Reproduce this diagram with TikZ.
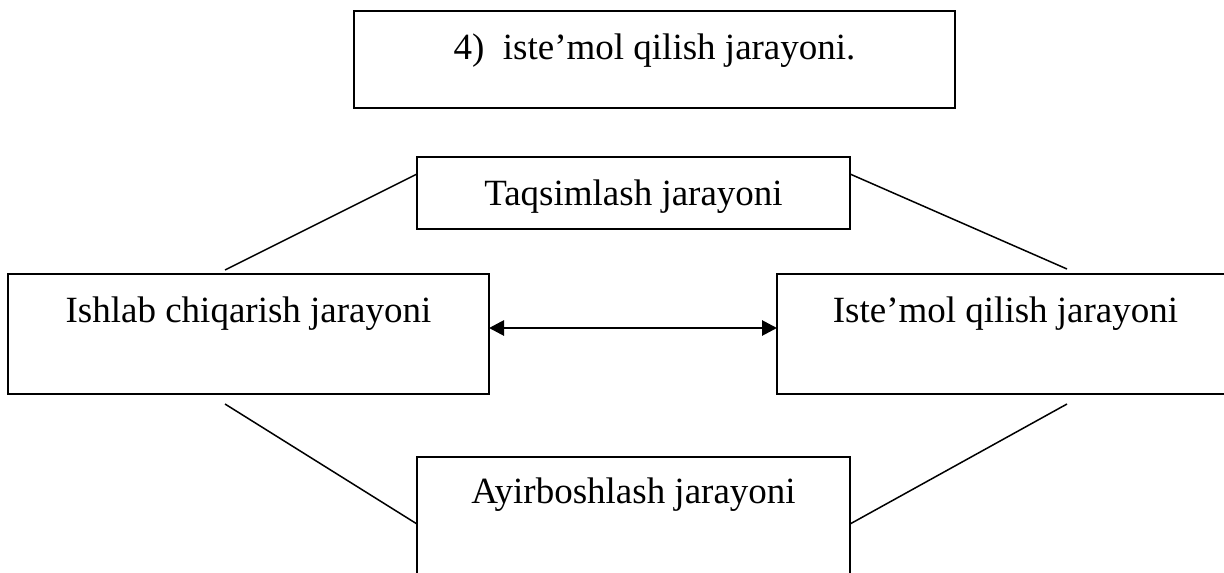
\documentclass[tikz,border=0pt]{standalone}
\usepackage{fontspec}
\setmainfont{Liberation Serif}
\usetikzlibrary{arrows.meta}
\begin{document}
\begin{tikzpicture}[x=1pt,y=-1pt,
  boxstyle/.style={draw=black,line width=2pt,inner sep=0pt,fill=none},
  txt/.style={anchor=base,inner sep=0pt,font=\fontsize{37}{40}\selectfont},
  link/.style={draw=black,line width=1.5pt},
  dbl/.style={draw=black,line width=2.8pt,{Triangle[length=15pt,width=15pt]}-{Triangle[length=15pt,width=15pt]}}]
\clip (0,0) rectangle (1224,573);
\fill[white] (0,0) rectangle (1224,573);
% boxes
\draw[boxstyle] (354,11) rectangle (955,108);
\node[txt] (t0) at (654.5,59) {4)\ \ iste’mol qilish jarayoni.};

\draw[boxstyle] (417,157) rectangle (850,229);
\coordinate (taqW) at (417,174);
\coordinate (taqE) at (850,174);
\node[txt] (t1) at (633.5,205) {Taqsimlash jarayoni};

\draw[boxstyle] (8,274) rectangle (489,394);
\coordinate (ishE) at (489,328);
\node[txt] (t2) at (248.5,322) {Ishlab chiqarish jarayoni};

\draw[boxstyle] (777,274) rectangle (1234,394);
\coordinate (istW) at (777,328);
\node[txt] (t3) at (1005.5,322) {Iste’mol qilish jarayoni};

\draw[boxstyle] (417,457) rectangle (850,600);
\coordinate (ayiW) at (417,524);
\coordinate (ayiE) at (850,524);
\node[txt] (t4) at (633.5,503) {Ayirboshlash jarayoni};

% free ends
\coordinate (ishTop) at (225,270);
\coordinate (ishBot) at (225,404);
\coordinate (istTop) at (1067,269);
\coordinate (istBot) at (1067,404);

\draw[link] (ishTop) -- (taqW);
\draw[link] (taqE) -- (istTop);
\draw[link] (ishBot) -- (ayiW);
\draw[link] (ayiE) -- (istBot);
\draw[dbl] (ishE) -- (istW);
\end{tikzpicture}
\end{document}
